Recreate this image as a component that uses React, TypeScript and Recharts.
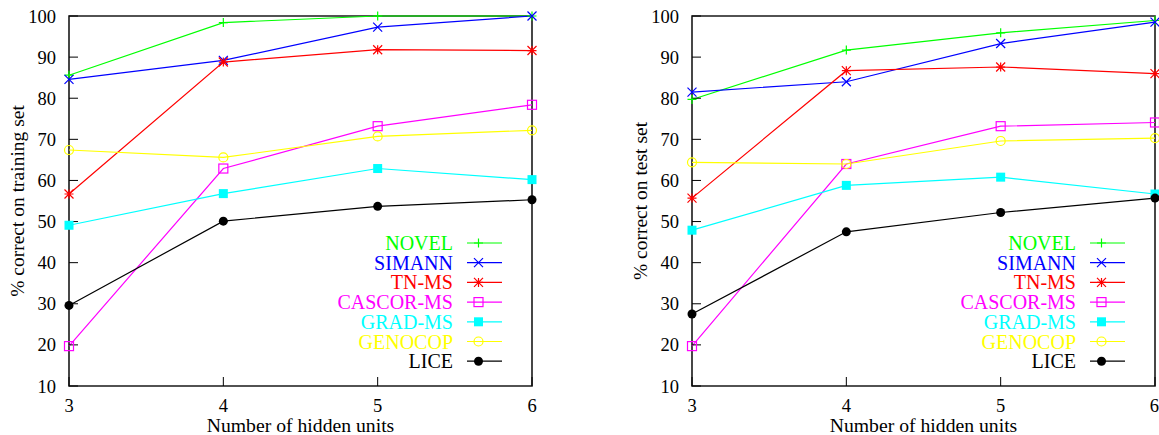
import React from 'react'
import { LineChart, Line, XAxis, YAxis, ReferenceArea, Legend } from 'recharts'

// x categories
const hiddenUnits = [3, 4, 5, 6]
const yTicks = [10, 20, 30, 40, 50, 60, 70, 80, 90, 100]

// % correct on training set
const trainNovel = [85.6, 98.4, 100, 100]
const trainSimann = [84.6, 89.2, 97.3, 100]
const trainTnMs = [56.7, 88.8, 91.8, 91.6]
const trainCascor = [19.7, 62.9, 73.2, 78.4]
const trainGrad = [49.1, 56.8, 62.9, 60.2]
const trainGenocop = [67.4, 65.6, 70.7, 72.2]
const trainLice = [29.6, 50.1, 53.7, 55.3]

// % correct on test set
const testNovel = [79.7, 91.7, 95.9, 98.9]
const testSimann = [81.5, 84.0, 93.3, 98.5]
const testTnMs = [55.7, 86.7, 87.6, 86.0]
const testCascor = [19.7, 64.0, 73.2, 74.1]
const testGrad = [47.9, 58.8, 60.8, 56.7]
const testGenocop = [64.4, 64.0, 69.6, 70.3]
const testLice = [27.5, 47.5, 52.2, 55.7]

type Kind = 'plus' | 'cross' | 'star' | 'box' | 'boxFilled' | 'circle' | 'circleFilled'

const SERIES: { key: string; name: string; color: string; kind: Kind }[] = [
  { key: 'novel', name: 'NOVEL', color: '#00ff00', kind: 'plus' },
  { key: 'simann', name: 'SIMANN', color: '#0000ff', kind: 'cross' },
  { key: 'tnms', name: 'TN-MS', color: '#ff0000', kind: 'star' },
  { key: 'cascor', name: 'CASCOR-MS', color: '#ff00ff', kind: 'box' },
  { key: 'grad', name: 'GRAD-MS', color: '#00ffff', kind: 'boxFilled' },
  { key: 'genocop', name: 'GENOCOP', color: '#ffff00', kind: 'circle' },
  { key: 'lice', name: 'LICE', color: '#000000', kind: 'circleFilled' },
]

const FONT = '"Liberation Serif", "DejaVu Serif", serif'

function buildRows(cols: number[][]) {
  return hiddenUnits.map((h, i) => {
    const row: Record<string, number> = { h }
    SERIES.forEach((s, j) => {
      row[s.key] = cols[j][i]
    })
    return row
  })
}

const trainData = buildRows([trainNovel, trainSimann, trainTnMs, trainCascor, trainGrad, trainGenocop, trainLice])
const testData = buildRows([testNovel, testSimann, testTnMs, testCascor, testGrad, testGenocop, testLice])

function Marker({ x, y, kind, color }: { x: number; y: number; kind: Kind; color: string }) {
  const s = 4.5
  switch (kind) {
    case 'plus':
      return <path d={`M${x - s},${y}H${x + s}M${x},${y - s}V${y + s}`} stroke={color} strokeWidth={1.2} fill="none" />
    case 'cross':
      return <path d={`M${x - s},${y - s}L${x + s},${y + s}M${x - s},${y + s}L${x + s},${y - s}`} stroke={color} strokeWidth={1.2} fill="none" />
    case 'star':
      return (
        <path
          d={`M${x - s},${y}H${x + s}M${x},${y - s}V${y + s}M${x - s},${y - s}L${x + s},${y + s}M${x - s},${y + s}L${x + s},${y - s}`}
          stroke={color}
          strokeWidth={1.2}
          fill="none"
        />
      )
    case 'box':
      return <rect x={x - s} y={y - s} width={2 * s} height={2 * s} stroke={color} strokeWidth={1.2} fill="none" />
    case 'boxFilled':
      return <rect x={x - s} y={y - s} width={2 * s} height={2 * s} fill={color} />
    case 'circle':
      return <circle cx={x} cy={y} r={s} stroke={color} strokeWidth={1.2} fill="none" />
    default:
      return <circle cx={x} cy={y} r={s} fill={color} />
  }
}

function LegendBlock() {
  return (
    <svg width={230} height={150} style={{ overflow: 'visible' }}>
      {SERIES.map((s, i) => {
        const y = 11 + i * 19.7
        return (
          <g key={s.key}>
            <text x={153} y={y} dy="0.35em" textAnchor="end" fill={s.color} fontSize={20} fontFamily={FONT}>
              {s.name}
            </text>
            <line x1={167} x2={202} y1={y} y2={y} stroke={s.color} strokeWidth={1.2} />
            <Marker x={178.5} y={y} kind={s.kind} color={s.color} />
          </g>
        )
      })}
    </svg>
  )
}

function Panel({ data, yLabel, axisW, rightM }: { data: Record<string, number>[]; yLabel: string; axisW: number; rightM: number }) {
  const tickStyle = { fill: '#000', fontSize: 18.5, fontFamily: FONT }
  return (
    <LineChart width={axisW + 463 + rightM} height={435} data={data} margin={{ top: 16, right: rightM, bottom: 0, left: 0 }}>
      <XAxis
        dataKey="h"
        type="number"
        domain={[3, 6]}
        ticks={hiddenUnits}
        height={49}
        axisLine={false}
        tickSize={-9}
        tickMargin={22}
        tickLine={{ stroke: '#000' }}
        tick={tickStyle}
        label={{ value: 'Number of hidden units', position: 'insideBottom', offset: 3, fill: '#000', fontSize: 19.7, fontFamily: FONT }}
      />
      <XAxis xAxisId="top" dataKey="h" type="number" domain={[3, 6]} ticks={hiddenUnits} orientation="top" height={0} axisLine={false} tickSize={-9} tickLine={{ stroke: '#000' }} tick={() => <g />} />
      <YAxis
        type="number"
        domain={[10, 100]}
        ticks={yTicks}
        width={axisW}
        axisLine={false}
        tickSize={-9}
        tickMargin={22}
        tickLine={{ stroke: '#000' }}
        tick={tickStyle}
        label={(p: any) => {
          const vb = p.viewBox || {}
          const cx = (vb.x ?? 0) + axisW - 45
          const cy = (vb.y ?? 16) + (vb.height ?? 370) / 2
          return (
            <text x={cx} y={cy} transform={`rotate(-90 ${cx} ${cy})`} textAnchor="middle" fill="#000" fontSize={19.5} fontFamily={FONT}>
              {yLabel}
            </text>
          )
        }}
      />
      <YAxis yAxisId="right" type="number" domain={[10, 100]} ticks={yTicks} orientation="right" width={0} axisLine={false} tickSize={-9} tickLine={{ stroke: '#000' }} tick={() => <g />} />
      <ReferenceArea x1={3} x2={6} y1={10} y2={100} fill="none" stroke="#1a1a1a" strokeWidth={1.6} ifOverflow="visible" />
      {SERIES.map((s) => (
        <Line
          key={s.key}
          dataKey={s.key}
          name={s.name}
          stroke={s.color}
          strokeWidth={1.2}
          isAnimationActive={false}
          dot={(p: any) => <Marker key={`${s.key}-${p.index}`} x={p.cx} y={p.cy} kind={s.kind} color={s.color} />}
          activeDot={false}
        />
      ))}
      <Legend
        layout="vertical"
        align="center"
        verticalAlign="middle"
        content={() => <LegendBlock />}
        wrapperStyle={{ left: axisW + 231, top: 232, width: 230, height: 150 }}
      />
    </LineChart>
  )
}

export default function App() {
  return (
    <div style={{ position: 'fixed', left: 0, top: 0, width: 1159, height: 435, background: '#fff', display: 'flex' }}>
      <Panel data={trainData} yLabel="% correct on training set" axisW={69} rightM={48} />
      <Panel data={testData} yLabel="% correct on test set" axisW={112} rightM={4} />
    </div>
  )
}
